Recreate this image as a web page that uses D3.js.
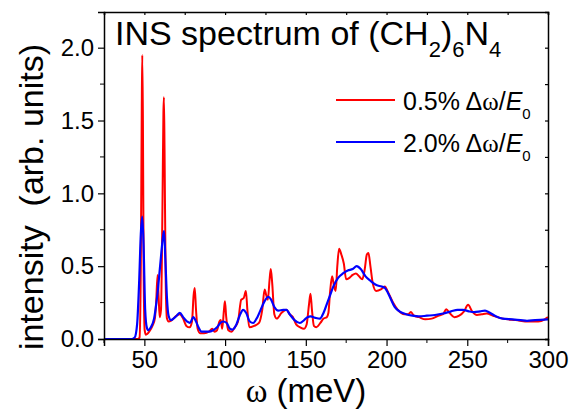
<!DOCTYPE html>
<meta charset="utf-8">
<style>
  body { margin: 0; background: #fff; }
  svg { font-family: "Liberation Sans", Arial, sans-serif; }
  .sym { font-family: "Liberation Serif", "Times New Roman", serif; }
</style>
<body>
<script src="https://d3js.org/d3.v7.min.js"></script>
<script>

// 0.5% resolution spectrum (red)
var omegaNarrow = [25,44,46,47,47.8,48.4,48.7,49.1,49.6,50.2,51,53,55,56.5,57.3,58.2,58.8,59.5,60.3,61.2,61.8,62.1,62.5,63.2,64,65,67,70,72,74,76,78,79.5,80.5,81.2,82,83,84.5,87,90,92,93.5,95,96.5,97.3,98.2,99.3,99.9,100.7,102,104,106,108,110,111.5,112.9,113.8,115,118,121,123,124.5,125.5,126.5,127.5,128.3,129.2,130.5,132,135,138,140,142,144,146.5,148.8,150.5,152,152.9,153.8,155,156.5,159,161,163,164,165,166.3,167.5,168.5,169.5,170.6,172,173.5,175,177,179,181,183,185,186.5,187.8,188.8,190,191.5,193.5,196.5,198.9,201,204,207,211,213.5,215,217,220,224,228,232,235,237,239,242,245,248,250.5,253,256,259,262,266,272,280,288,294,298,300];
var intNarrow = [0,0,0,0.01,0.5,1.6,1.95,1.5,0.4,0.06,0.03,0.05,0.09,0.14,0.25,0.44,0.3,0.15,0.2,0.9,1.55,1.66,1.3,0.4,0.14,0.12,0.13,0.16,0.17,0.14,0.09,0.08,0.12,0.3,0.35,0.2,0.07,0.04,0.04,0.05,0.07,0.05,0.06,0.12,0.13,0.07,0.2,0.26,0.15,0.06,0.05,0.08,0.12,0.27,0.28,0.33,0.2,0.08,0.09,0.11,0.2,0.34,0.3,0.27,0.4,0.48,0.38,0.17,0.14,0.18,0.2,0.17,0.15,0.1,0.08,0.07,0.1,0.24,0.31,0.2,0.09,0.08,0.11,0.14,0.15,0.18,0.32,0.43,0.36,0.33,0.5,0.62,0.58,0.52,0.41,0.42,0.44,0.45,0.43,0.41,0.48,0.58,0.59,0.5,0.38,0.33,0.34,0.36,0.32,0.25,0.2,0.17,0.17,0.185,0.16,0.15,0.135,0.14,0.16,0.17,0.205,0.18,0.15,0.16,0.19,0.235,0.19,0.165,0.17,0.175,0.16,0.14,0.13,0.12,0.12,0.135,0.15];

// 2.0% resolution spectrum (blue)
var omegaWide = [25,42,44,45.5,46.8,47.8,48.7,49.5,50.5,51.5,52.5,54,56,58,60,61.5,62.2,63,64,65,66.5,68,70,72,74,76.5,78.2,80.3,82,83.5,85.4,88,90,92.6,95,97,98.8,101,103,104.5,107,109,111.2,113,115.3,117.4,120,122,124.5,126.7,128.5,130.5,133,136,138,140,143,146.3,149,151,153,156,158.7,161,163,165,167,170,173,176,179,181.5,184,187,190,193.7,197,199,202,205,208,212,216,220,225,230,235,240,244,247.3,251,254.3,258,261,264,268,272,278,283,287,292,300];
var intWide = [0,0,0.01,0.1,0.4,0.72,0.84,0.65,0.2,0.08,0.06,0.08,0.14,0.3,0.53,0.7,0.74,0.55,0.28,0.16,0.13,0.14,0.16,0.18,0.15,0.12,0.11,0.15,0.12,0.08,0.05,0.05,0.05,0.06,0.08,0.11,0.12,0.11,0.07,0.065,0.1,0.16,0.2,0.18,0.12,0.11,0.15,0.2,0.26,0.29,0.27,0.22,0.195,0.2,0.2,0.17,0.13,0.11,0.13,0.15,0.155,0.145,0.14,0.18,0.24,0.3,0.36,0.42,0.45,0.47,0.48,0.5,0.48,0.43,0.4,0.37,0.36,0.35,0.29,0.22,0.19,0.17,0.16,0.155,0.16,0.165,0.175,0.19,0.2,0.2,0.19,0.185,0.19,0.195,0.18,0.155,0.14,0.135,0.13,0.125,0.13,0.135];

var xTicks = [50, 100, 150, 200, 250, 300];
var yTicks = [0, 0.5, 1.0, 1.5, 2.0];

var width = 574, height = 412;
var margin = {top: 12, right: 26, bottom: 73, left: 104};

var svg = d3.select("body").append("svg")
    .attr("width", width)
    .attr("height", height);

var x = d3.scaleLinear().domain([25, 300]).range([margin.left, width - margin.right]);
var y = d3.scaleLinear().domain([0, 2.245]).range([height - margin.bottom, margin.top]);

// minor ticks every 25 meV / 0.25
var xMinor = d3.range(25, 301, 25).filter(function(v) { return xTicks.indexOf(v) < 0; });
var yMinor = d3.range(0.25, 2.25, 0.5);

var line = d3.line()
    .x(function(d) { return x(d[0]); })
    .y(function(d) { return y(d[1]); })
    .curve(d3.curveMonotoneX);

svg.append("clipPath").attr("id", "clip")
  .append("rect")
    .attr("x", margin.left).attr("y", margin.top)
    .attr("width", width - margin.left - margin.right)
    .attr("height", height - margin.top - margin.bottom);

var plot = svg.append("g").attr("clip-path", "url(#clip)");

plot.append("path")
    .datum(d3.zip(omegaNarrow, intNarrow))
    .attr("fill", "none")
    .attr("stroke", "#ff0000")
    .attr("stroke-width", 2)
    .attr("stroke-linejoin", "round")
    .attr("d", line);

plot.append("path")
    .datum(d3.zip(omegaWide, intWide))
    .attr("fill", "none")
    .attr("stroke", "#0000ff")
    .attr("stroke-width", 2.2)
    .attr("stroke-linejoin", "round")
    .attr("d", line);

// axes
var bottom = svg.append("g")
    .attr("transform", "translate(0," + (height - margin.bottom) + ")")
    .call(d3.axisBottom(x).tickValues(xTicks).tickSize(7).tickPadding(5).tickFormat(d3.format("d")));
bottom.append("g").selectAll("line").data(xMinor).enter().append("line")
    .attr("x1", x).attr("x2", x).attr("y1", 0).attr("y2", 4).attr("stroke", "#000");

var left = svg.append("g")
    .attr("transform", "translate(" + margin.left + ",0)")
    .call(d3.axisLeft(y).tickValues(yTicks).tickSize(6).tickPadding(4).tickFormat(d3.format(".1f")));
left.append("g").selectAll("line").data(yMinor).enter().append("line")
    .attr("y1", y).attr("y2", y).attr("x1", 0).attr("x2", -4).attr("stroke", "#000");

svg.append("g")
    .attr("transform", "translate(0," + margin.top + ")")
    .call(d3.axisTop(x).tickValues(d3.range(25, 301, 25)).tickSize(-3).tickFormat(""));

svg.append("g")
    .attr("transform", "translate(" + (width - margin.right) + ",0)")
    .call(d3.axisRight(y).tickValues(d3.range(0, 2.25, 0.25)).tickSize(-3).tickFormat(""));

svg.selectAll(".domain").attr("stroke", "#000").attr("stroke-width", 1.5);
svg.selectAll(".tick line").attr("stroke", "#000").attr("stroke-width", 1.2);
svg.selectAll(".tick text")
    .attr("font-family", "Liberation Sans, Arial, sans-serif")
    .attr("font-size", 24)
    .attr("fill", "#000");

// axis titles
var xt = svg.append("text")
    .attr("x", 306).attr("y", 402)
    .attr("text-anchor", "middle")
    .attr("font-size", 33);
xt.append("tspan").attr("class", "sym").text("ω");
xt.append("tspan").text(" (meV)");

svg.append("text")
    .attr("transform", "translate(43,197) rotate(-90)")
    .attr("text-anchor", "middle")
    .attr("font-size", 34)
    .style("white-space", "pre")
    .text("intensity  (arb. units)");

// title
var title = svg.append("text")
    .attr("x", 115).attr("y", 45)
    .attr("font-size", 34);
title.append("tspan").text("INS spectrum of (CH");
title.append("tspan").attr("font-size", 22).attr("dy", 12).text("2");
title.append("tspan").attr("dy", -12).text(")");
title.append("tspan").attr("font-size", 22).attr("dy", 12).text("6");
title.append("tspan").attr("dy", -12).text("N");
title.append("tspan").attr("font-size", 22).attr("dy", 12).text("4");

// legend
var legendLabels = ["0.5%", "2.0%"];
var legendColors = ["#ff0000", "#0000ff"];
var legend = svg.append("g");
legendLabels.forEach(function(lab, i) {
  var ly = 100 + i * 42;
  legend.append("line")
      .attr("x1", 336).attr("x2", 395)
      .attr("y1", ly).attr("y2", ly)
      .attr("stroke", legendColors[i]).attr("stroke-width", 2);
  var t = legend.append("text")
      .attr("x", 403).attr("y", ly + 10)
      .attr("font-size", 25);
  t.append("tspan").text(lab + " Δ");
  t.append("tspan").attr("class", "sym").text("ω");
  t.append("tspan").text("/");
  t.append("tspan").attr("font-style", "italic").text("E");
  t.append("tspan").attr("font-size", 15).attr("dy", 9).text("0");
});

</script>
</body>
